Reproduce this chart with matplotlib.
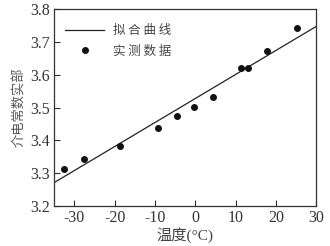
import numpy as np
import matplotlib
matplotlib.use('Agg')
import matplotlib.pyplot as plt

plt.rcParams['font.serif'] = ['Liberation Serif', 'DejaVu Serif']
plt.rcParams['font.family'] = ['serif', 'Noto Sans CJK SC']
plt.rcParams['axes.unicode_minus'] = False

temp = [-32.5, -27.5, -18.7, -9.25, -4.6, -0.2, 4.3, 11.45, 13.1, 17.7, 25.2]
eps_real = [3.313, 3.342, 3.383, 3.437, 3.473, 3.503, 3.531, 3.620, 3.620, 3.673, 3.741]

# fitted line end points
fit_x = [-35, 30]
fit_y = [3.271, 3.747]

xticks = [-30, -20, -10, 0, 10, 20, 30]
yticks = [3.2, 3.3, 3.4, 3.5, 3.6, 3.7, 3.8]

dark = '#333333'
cjk = ['Noto Sans CJK SC']

fig = plt.figure(figsize=(3.3, 2.46), dpi=100)
ax = fig.add_axes([0.164, 0.163, 0.794, 0.8])

ax.plot(fit_x, fit_y, color='#222222', lw=0.9, label='拟 合 曲 线')
ax.plot(temp, eps_real, 'o', color='#111111', ms=4, label='实 测 数 据')

ax.set_xlim(-35, 30)
ax.set_ylim(3.2, 3.8)
ax.set_xticks(xticks)
ax.set_xticklabels([str(t) for t in xticks])
ax.set_yticks(yticks)
ax.set_yticklabels(['%.1f' % t for t in yticks])

ax.tick_params(direction='in', length=4, width=0.8, colors=dark,
               labelsize=11.5, pad=3, top=False, right=False)
for lab in ax.get_xticklabels() + ax.get_yticklabels():
    lab.set_family('Liberation Serif')
for s in ax.spines.values():
    s.set_linewidth(0.9)
    s.set_color(dark)

ax.set_xlabel('温度(°C)', fontsize=11, color='#444444', labelpad=1)
ax.set_ylabel('介电常数实部', fontsize=9.5, color='#555555', family=cjk, labelpad=3)

leg = ax.legend(loc='upper left', bbox_to_anchor=(0, 0.982), frameon=False,
                prop={'family': cjk, 'size': 9},
                handlelength=3.1, handletextpad=0.7, labelspacing=0.6,
                borderaxespad=0.5, markerscale=1.0)
for t in leg.get_texts():
    t.set_color('#444444')

fig.savefig('out.png', dpi=100)
